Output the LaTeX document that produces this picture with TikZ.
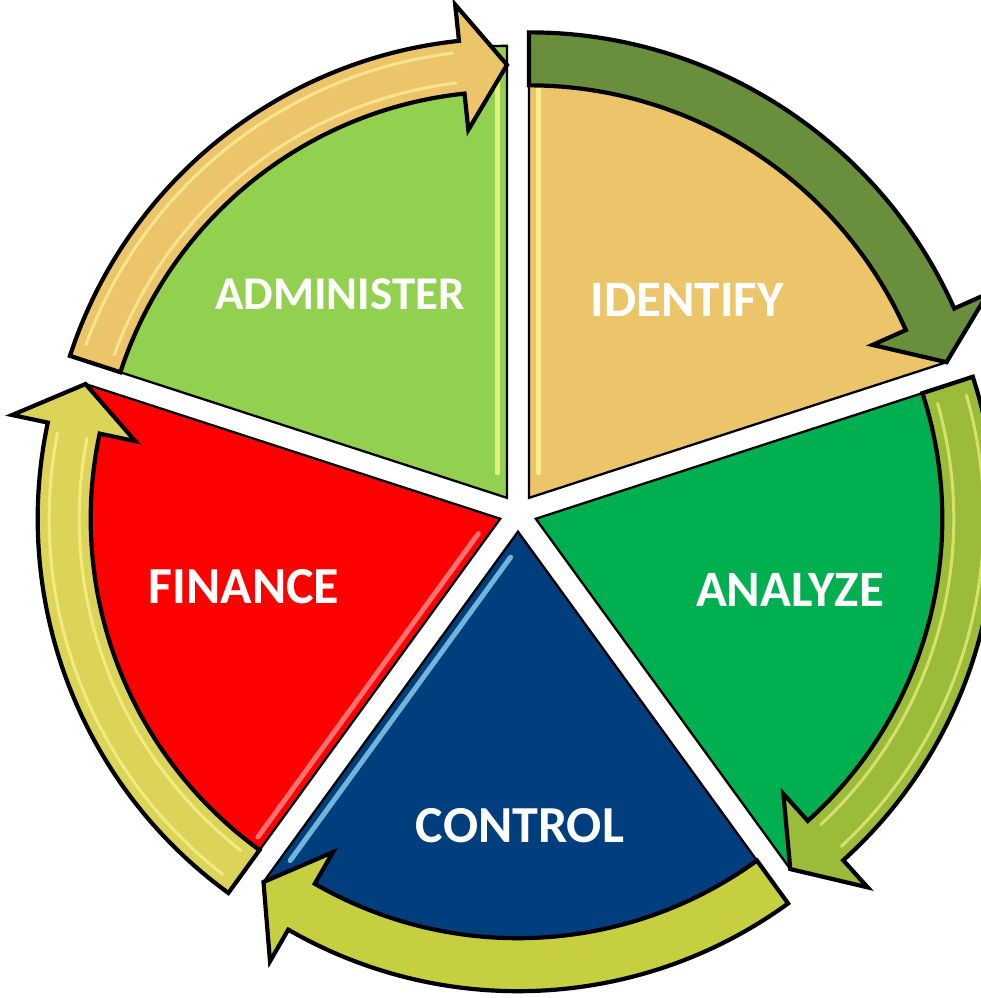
\documentclass[tikz,border=0pt]{standalone}
\usepackage{fontspec}
\setmainfont{Carlito}
\usetikzlibrary{calc}
\definecolor{cIdent}{RGB}{236,197,106}
\definecolor{cAdmin}{RGB}{146,208,80}
\definecolor{cAnal}{RGB}{0,176,80}
\definecolor{cCtrl}{RGB}{0,62,126}
\definecolor{cFin}{RGB}{255,0,0}
\definecolor{cArrA}{RGB}{106,143,60}
\definecolor{cArrB}{RGB}{155,187,59}
\definecolor{cArrC}{RGB}{197,207,64}
\definecolor{cArrD}{RGB}{220,212,88}
\definecolor{cArrE}{RGB}{236,197,106}
\def\aw{26.5}
\def\hw{63}
\def\ah{6}
\newcommand\cycarrow[5]{%
  \draw[arrowline, fill=#5]
    ($(#1)+(#2:{#4+\aw})$) arc[start angle=#2, end angle={#3+\ah}, radius={#4+\aw}]
    -- ($(#1)+({#3+\ah}:{#4+\hw})$)
    -- ($(#1)+(#3:#4)$)
    -- ($(#1)+({#3+\ah}:{#4-\hw})$)
    -- ($(#1)+({#3+\ah}:{#4-\aw})$)
    arc[start angle={#3+\ah}, end angle=#2, radius={#4-\aw}]
    -- cycle;}
\newcommand\arrowstripes[5]{%
  \draw[stripe, draw=#5] ($(#1)+({#2-2}:{#4+15})$) arc[start angle={#2-2}, end angle={#3+\ah+1}, radius={#4+15}];
  \draw[stripe, draw=#5] ($(#1)+({#2-2}:{#4-15})$) arc[start angle={#2-2}, end angle={#3+\ah+1}, radius={#4-15}];}
\begin{document}
\begin{tikzpicture}[x=1pt,y=1pt,
  wedge/.style={draw=black, line width=2.3pt, line join=miter},
  arrowline/.style={draw=black, line width=4.2pt, line join=miter},
  stripe/.style={line width=3pt, line cap=round, opacity=0.6},
  wstripe/.style={line width=5pt, line cap=round, opacity=0.75},
  label/.style={text=white, font=\bfseries, inner sep=0pt}]
\useasboundingbox (0,0) rectangle (981,998);
\clip (0,0) rectangle (981,998);
\coordinate (C) at (518,485);
\path (C) ++(54:18.7) coordinate (PI);
\path (C) ++(-18:18.7) coordinate (PA);
\path (C) ++(-90:18.7) coordinate (PC);
\path (C) ++(-162:18.7) coordinate (PF);
\path (C) ++(126:18.7) coordinate (PD);
% wedges
\draw[wedge, fill=cIdent] (PI) -- ++(90:439) arc[start angle=90, end angle=18, radius=439] -- cycle;
\draw[wedge, fill=cAnal] (PA) -- ++(18:433) arc[start angle=18, end angle=-54, radius=433] -- cycle;
\draw[wedge, fill=cCtrl] (PC) -- ++(-54:433) arc[start angle=-54, end angle=-126, radius=433] -- cycle;
\draw[wedge, fill=cFin] (PF) -- ++(-126:436) arc[start angle=-126, end angle=-198, radius=436] -- cycle;
\draw[wedge, fill=cAdmin] (PD) -- ++(162:452) arc[start angle=162, end angle=90, radius=452] -- cycle;
% wedge bevel highlights
\draw[wstripe, draw=white!60!yellow] ($(PI)+(90:25)+(0:10)$) -- ($(PI)+(90:425)+(0:10)$);
\draw[wstripe, draw=white!55!yellow] ($(PD)+(90:25)+(180:10)$) -- ($(PD)+(90:440)+(180:10)$);
\draw[wstripe, draw=cyan!40!white] ($(PC)+(-126:25)+(-36:9)$) -- ($(PC)+(-126:400)+(-36:9)$);
\draw[wstripe, draw=red!40!white] ($(PF)+(-126:25)+(144:9)$) -- ($(PF)+(-126:400)+(144:9)$);
% arrows
\cycarrow{PI}{90}{18}{439}{cArrA}
\cycarrow{PA}{18}{-54}{433}{cArrB}
\cycarrow{PC}{-54}{-126}{433}{cArrC}
\cycarrow{PF}{-126}{-198}{436}{cArrD}
\cycarrow{PD}{162}{90}{433}{cArrE}
\arrowstripes{PA}{18}{-54}{433}{yellow!45!white}
\arrowstripes{PF}{-126}{-198}{436}{yellow!40!white}
\arrowstripes{PD}{162}{90}{433}{yellow!35!white}
% labels
\node[label, font=\bfseries\fontsize{51}{60}\selectfont] (tIdent) at (687,698) {IDENTIFY};
\node[label, font=\bfseries\fontsize{47}{56}\selectfont] (tAdmin) at (340,704) {ADMINISTER};
\node[label, font=\bfseries\fontsize{51}{60}\selectfont] (tAnal) at (790,408) {ANALYZE};
\node[label, font=\bfseries\fontsize{52}{62}\selectfont] (tCtrl) at (520,172) {CONTROL};
\node[label, font=\bfseries\fontsize{52}{62}\selectfont] (tFin) at (244,411) {FINANCE};
\end{tikzpicture}
\end{document}
